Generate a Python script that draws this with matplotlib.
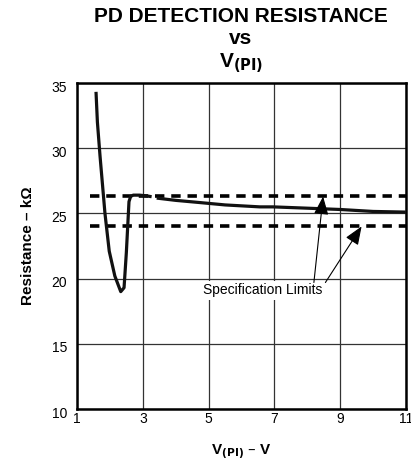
import numpy as np
import matplotlib.pyplot as plt
import matplotlib.transforms as mtransforms

plt.rcParams['font.family'] = ['Liberation Sans', 'DejaVu Sans']

# curve (V(PI) in V, resistance in kOhm)
v_drop = [1.58, 1.62, 1.70, 1.85, 1.98, 2.15, 2.33, 2.43, 2.50, 2.58, 2.63, 2.71, 2.90, 3.10, 3.22]
r_drop = [34.2, 32.0, 29.4, 25.0, 22.1, 20.2, 19.0, 19.3, 22.0, 25.9, 26.3, 26.4, 26.4, 26.35, 26.3]
v_flat = [3.47, 4.0, 4.74, 5.5, 6.56, 6.96, 8.0, 9.0, 10.0, 11.0]
r_flat = [26.16, 26.0, 25.83, 25.65, 25.5, 25.5, 25.4, 25.3, 25.15, 25.1]

spec_high = 26.3
spec_low = 24.0

x_ticks = [1, 3, 5, 7, 9, 11]
x_labels = ['1', '3', '5', '7', '9', '11']
y_ticks = [10, 15, 20, 25, 30, 35]

fig = plt.figure(figsize=(4.11, 4.68), dpi=100)
ax = fig.add_axes([77/411, 1 - 409/468, 329/411, 326/468])

ax.set_xlim(1, 11)
ax.set_ylim(10, 35)
ax.set_xticks(x_ticks)
ax.set_xticklabels(x_labels)
ax.set_yticks(y_ticks)
ax.grid(True, color='#333333', linewidth=0.9)
ax.tick_params(length=0, labelsize=10)
ax.tick_params(axis='x', pad=2)
ax.tick_params(axis='y', pad=7)
# y labels sit a little below their grid lines in the original
shift = mtransforms.ScaledTranslation(0, -3/100, fig.dpi_scale_trans)
for lab in ax.get_yticklabels():
    lab.set_transform(lab.get_transform() + shift)
for s in ax.spines.values():
    s.set_linewidth(1.8)

# spec limit lines
ax.plot([1.4, 11], [spec_high, spec_high], color='black', lw=2.6,
        dashes=(2.6, 1.9), zorder=3)
ax.plot([1.4, 11], [spec_low, spec_low], color='black', lw=2.6,
        dashes=(2.6, 1.9), zorder=3)

# measured curve
ax.plot(v_drop, r_drop, color='#111111', lw=2.3, zorder=4)
ax.plot(v_flat, r_flat, color='#111111', lw=2.3, zorder=4)

# annotation
ax.text(6.63, 19.1, 'Specification Limits', fontsize=10, ha='center', va='center',
        bbox=dict(facecolor='white', edgecolor='none', pad=2), zorder=5)
arrow = dict(arrowstyle='-|>,head_length=0.8,head_width=0.32', mutation_scale=14,
             color='black', lw=0.8, shrinkA=0, shrinkB=0)
ax.annotate('', xy=(8.48, spec_high), xytext=(8.2, 19.7), arrowprops=arrow, zorder=6)
ax.annotate('', xy=(9.65, spec_low), xytext=(8.55, 19.7), arrowprops=arrow, zorder=6)

ax.set_xlabel('V$_{\\mathbf{(PI)}}$ – V', fontsize=11, fontweight='bold', labelpad=12)
ax.set_ylabel('Resistance – kΩ', fontsize=11, fontweight='bold', labelpad=12)

fig.text(241/411, 1 - 17/468, 'PD DETECTION RESISTANCE', fontsize=15, fontweight='bold',
         ha='center', va='center')
fig.text(241/411, 1 - 39/468, 'vs', fontsize=15, fontweight='bold',
         ha='center', va='center')
fig.text(241/411, 1 - 63/468, 'V$_{\\mathbf{(PI)}}$', fontsize=15, fontweight='bold',
         ha='center', va='center')

plt.savefig('out.png', dpi=100)
